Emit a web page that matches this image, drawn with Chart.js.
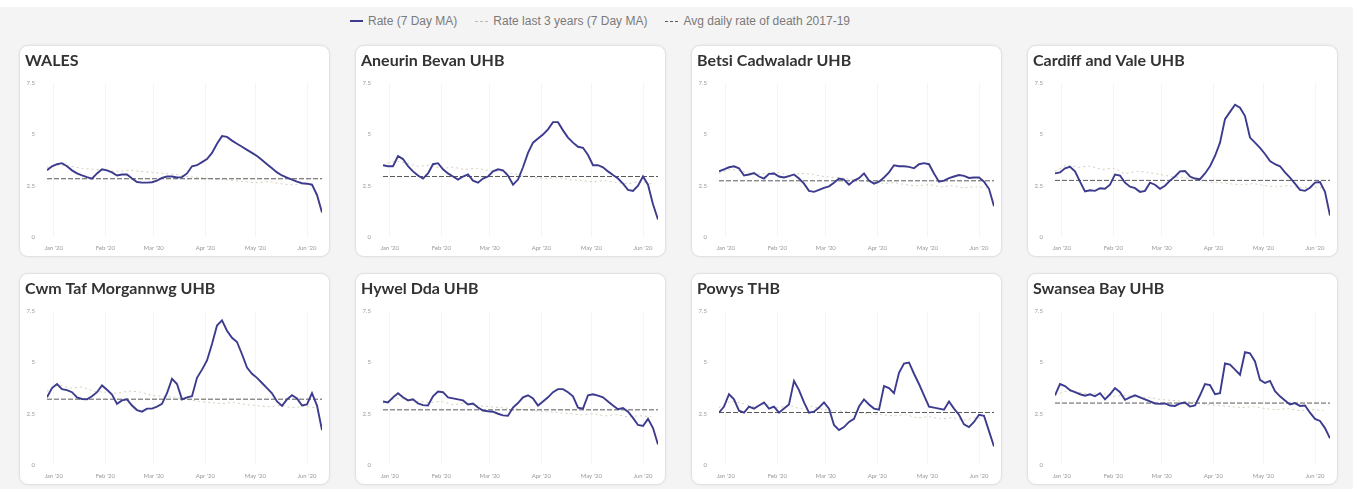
<!DOCTYPE html>
<html>
<head>
<meta charset="utf-8">
<script src="https://cdn.jsdelivr.net/npm/chart.js@4/dist/chart.umd.min.js"></script>
<style>
  html, body { margin: 0; padding: 0; }
  body { width: 1353px; height: 489px; background: #f4f4f4; position: relative; overflow: hidden; font-family: "Liberation Sans", Arial, sans-serif; }
  #topband { position: absolute; left: 0; top: 0; width: 1353px; height: 7px; background: #ffffff; }
  #legend { position: absolute; left: 350px; top: 13px; height: 16px; display: flex; align-items: center; font-size: 12px; color: #7a7a7a; white-space: nowrap; }
  .item { display: flex; align-items: center; margin-right: 18px; }
  .mk { display: inline-block; width: 13px; height: 0; margin-right: 5px; }
  .card { position: absolute; width: 311px; height: 212px; box-sizing: border-box; background: #fff; border: 1px solid #e2e2e2; border-radius: 9px; box-shadow: 0 0 3px rgba(0,0,0,0.06); }
  .card canvas { position: absolute; left: 0; top: 0; }
</style>
</head>
<body>
<div id="topband"></div>
<div id="legend"></div>
<div id="grid"></div>
<script>
// ---- categories / tick labels ----
const panelTitles = ["WALES", "Aneurin Bevan UHB", "Betsi Cadwaladr UHB", "Cardiff and Vale UHB",
                     "Cwm Taf Morgannwg UHB", "Hywel Dda UHB", "Powys THB", "Swansea Bay UHB"];
const legendLabels = ["Rate (7 Day MA)", "Rate last 3 years (7 Day MA)", "Avg daily rate of death 2017-19"];
const monthDays = [0, 31, 60, 91, 121, 152];
const monthLabels = ["Jan '20", "Feb '20", "Mar '20", "Apr '20", "May '20", "Jun '20"];
const yTickValues = [0, 2.5, 5, 7.5];

// day offsets from 1 Jan 2020
const days = [-4,-1,2,5,8,11,14,17,20,23,26,29,32,35,38,41,44,47,50,53,56,59,62,65,68,71,74,77,80,83,86,89,92,95,98,101,104,107,110,113,116,119,122,125,128,131,134,137,140,143,146,149,152,155,158,161];
const days3 = [-4,3,10,17,24,31,38,45,52,59,66,73,80,87,94,101,108,115,122,129,136,143,150,157];

// ---- series: rate (7 day MA) ----
const walesRate = [3.25,3.45,3.55,3.6,3.45,3.25,3.1,3.0,2.92,2.85,3.1,3.3,3.25,3.15,3.0,3.05,3.05,2.85,2.68,2.65,2.65,2.67,2.75,2.88,2.95,2.95,2.9,2.92,3.1,3.45,3.5,3.65,3.8,4.1,4.55,4.92,4.88,4.7,4.55,4.4,4.25,4.1,3.95,3.75,3.55,3.35,3.15,3.0,2.9,2.8,2.7,2.62,2.6,2.55,2.05,1.2];
const aneurinRate = [3.5,3.45,3.45,3.95,3.8,3.45,3.2,3.0,2.85,3.1,3.55,3.6,3.3,3.1,2.95,2.8,2.95,3.05,2.75,2.65,2.85,2.95,3.2,3.3,3.25,3.0,2.55,2.8,3.4,4.1,4.6,4.8,5.0,5.25,5.6,5.6,5.2,4.85,4.6,4.4,4.35,4.0,3.5,3.5,3.4,3.2,3.02,2.85,2.6,2.3,2.25,2.5,2.95,2.55,1.6,0.85];
const betsiRate = [3.2,3.3,3.4,3.45,3.35,3.0,3.05,3.12,2.95,2.85,3.08,3.1,2.95,2.9,2.97,3.05,2.85,2.6,2.25,2.2,2.3,2.4,2.47,2.65,2.85,2.8,2.55,2.75,2.87,3.1,2.75,2.6,2.7,2.9,3.15,3.5,3.45,3.45,3.42,3.35,3.55,3.6,3.55,3.1,2.7,2.75,2.87,2.95,3.02,2.98,2.88,2.9,2.9,2.7,2.35,1.5];
const cardiffRate = [3.1,3.15,3.35,3.42,3.2,2.7,2.22,2.28,2.25,2.38,2.35,2.55,3.05,3.0,2.65,2.45,2.38,2.2,2.25,2.65,2.55,2.35,2.5,2.75,2.95,3.2,3.22,2.95,2.85,2.82,3.1,3.45,3.95,4.6,5.75,6.1,6.45,6.3,5.9,4.85,4.6,4.35,4.05,3.7,3.55,3.45,3.15,2.9,2.6,2.3,2.25,2.4,2.65,2.68,2.2,1.05];
const cwmTafRate = [3.3,3.75,3.95,3.7,3.65,3.55,3.3,3.22,3.2,3.35,3.55,3.88,3.67,3.43,2.98,3.15,3.2,2.9,2.68,2.6,2.75,2.75,2.85,2.98,3.5,4.2,3.95,3.2,3.3,3.35,4.25,4.65,5.1,5.9,6.8,7.05,6.55,6.2,6.0,5.4,4.75,4.45,4.25,4.0,3.75,3.5,3.1,2.88,3.2,3.4,3.25,2.9,2.95,3.5,2.9,1.7];
const hywelRate = [3.1,3.05,3.3,3.5,3.3,3.15,3.2,3.0,2.92,2.9,3.35,3.58,3.55,3.3,3.25,3.2,3.15,2.95,3.0,2.8,2.65,2.62,2.6,2.5,2.42,2.4,2.8,3.02,3.3,3.4,3.25,2.9,3.1,3.3,3.55,3.7,3.7,3.55,3.35,2.8,2.75,3.4,3.45,3.38,3.3,3.1,2.9,2.72,2.78,2.6,2.3,1.95,1.9,2.25,1.8,1.0];
const powysRate = [2.55,2.85,3.45,3.2,2.65,2.55,2.85,2.75,2.9,3.05,2.75,2.85,2.55,2.75,2.95,4.1,3.65,3.05,2.55,2.6,2.8,3.05,2.75,1.95,1.7,1.85,2.1,2.25,2.85,3.2,2.95,2.75,2.7,3.85,3.75,3.5,4.5,4.95,5.0,4.45,3.95,3.4,2.85,2.8,2.75,2.7,3.1,2.75,2.45,1.98,1.85,2.1,2.45,2.4,1.65,0.9];
const swanseaRate = [3.4,3.95,3.85,3.65,3.55,3.45,3.38,3.45,3.35,3.5,3.2,3.45,3.75,3.55,3.18,3.3,3.4,3.3,3.2,3.1,3.0,2.98,3.0,2.9,2.88,3.0,3.05,2.85,2.9,3.4,3.95,3.9,3.45,3.5,4.95,4.9,4.65,4.4,5.5,5.45,5.05,4.15,4.0,4.1,3.6,3.35,3.15,2.95,3.02,2.88,2.9,2.55,2.25,2.15,1.8,1.3];

// ---- series: rate last 3 years (7 day MA), weekly readings ----
const walesPrev = [3.4,3.5,3.45,3.35,3.3,3.25,3.2,3.25,3.2,3.15,3.1,3.05,2.95,2.9,2.85,2.8,2.75,2.7,2.65,2.7,2.6,2.55,2.6,2.55];
const aneurinPrev = [3.5,3.7,3.6,3.45,3.5,3.35,3.4,3.3,3.35,3.25,3.2,3.1,3.0,2.9,2.85,2.9,2.8,2.75,2.7,2.75,2.65,2.6,2.7,2.6];
const betsiPrev = [3.1,3.3,3.2,3.05,3.1,3.15,3.0,3.1,3.05,2.95,2.9,2.85,2.75,2.7,2.6,2.65,2.55,2.5,2.55,2.45,2.5,2.4,2.45,2.4];
const cardiffPrev = [3.2,3.5,3.4,3.45,3.3,3.35,3.1,3.2,3.15,3.05,2.95,2.9,2.8,2.7,2.65,2.6,2.55,2.6,2.5,2.45,2.5,2.4,2.45,2.4];
const cwmTafPrev = [3.6,3.9,3.75,3.8,3.6,3.55,3.5,3.6,3.55,3.4,3.35,3.3,3.2,3.1,3.05,3.0,3.05,2.95,2.9,2.85,2.9,2.8,2.85,2.8];
const hywelPrev = [3.0,3.25,3.2,3.1,3.05,3.1,2.95,3.0,2.9,2.85,2.8,2.75,2.7,2.65,2.6,2.55,2.5,2.45,2.5,2.4,2.45,2.35,2.4,2.35];
const powysPrev = [2.8,3.1,3.0,2.85,2.95,2.8,2.9,2.75,2.85,2.7,2.65,2.6,2.55,2.5,2.45,2.4,2.45,2.3,2.35,2.25,2.3,2.2,2.3,2.25];
const swanseaPrev = [3.4,3.6,3.55,3.45,3.5,3.35,3.4,3.3,3.3,3.2,3.15,3.1,3.05,2.95,2.9,2.85,2.8,2.85,2.75,2.7,2.75,2.65,2.7,2.65];

// ---- avg daily rate of death 2017-19 ----
const avgRates = [2.84, 2.95, 2.74, 2.76, 3.21, 2.69, 2.56, 3.02];

const rateSeries = [walesRate, aneurinRate, betsiRate, cardiffRate, cwmTafRate, hywelRate, powysRate, swanseaRate];
const prevSeries = [walesPrev, aneurinPrev, betsiPrev, cardiffPrev, cwmTafPrev, hywelPrev, powysPrev, swanseaPrev];

// ---- styling ----
const RATE_COLOR = '#3c3b8e';
const PREV_COLOR = 'rgba(200,200,175,0.85)';
const AVG_COLOR = '#5a5a5a';

// legend
const legendStyles = [
  'border-top:2px solid ' + RATE_COLOR,
  'border-top:1px dashed #bbbbbb',
  'border-top:1px dashed ' + AVG_COLOR
];
const legendEl = document.getElementById('legend');
legendLabels.forEach((lab, i) => {
  const it = document.createElement('span');
  it.className = 'item';
  const mk = document.createElement('span');
  mk.className = 'mk';
  mk.style.cssText = legendStyles[i];
  const tx = document.createElement('span');
  tx.textContent = lab;
  it.appendChild(mk); it.appendChild(tx);
  legendEl.appendChild(it);
});

const cardLefts = [19, 355, 691, 1027];
const cardTops = [45, 273];
const gridEl = document.getElementById('grid');

panelTitles.forEach((title, i) => {
  const card = document.createElement('div');
  card.className = 'card';
  card.style.left = cardLefts[i % 4] + 'px';
  card.style.top = cardTops[Math.floor(i / 4)] + 'px';
  const cv = document.createElement('canvas');
  cv.width = 309; cv.height = 210;
  cv.style.width = '309px'; cv.style.height = '210px';
  card.appendChild(cv);
  gridEl.appendChild(card);

  const rate = rateSeries[i].map((v, k) => ({ x: days[k], y: v }));
  const prev = prevSeries[i].map((v, k) => ({ x: days3[k], y: v }));
  const avg = days.map(d => ({ x: d, y: avgRates[i] }));

  new Chart(cv, {
    type: 'line',
    data: {
      datasets: [
        { label: legendLabels[1], data: prev, borderColor: PREV_COLOR, borderWidth: 1, borderDash: [2, 3], pointRadius: 0, tension: 0.2, order: 3 },
        { label: legendLabels[2], data: avg, borderColor: AVG_COLOR, borderWidth: 1, borderDash: [5, 2], pointRadius: 0, order: 2 },
        { label: legendLabels[0], data: rate, borderColor: RATE_COLOR, borderWidth: 1.9, pointRadius: 0, tension: 0, order: 1 }
      ]
    },
    options: {
      responsive: false,
      devicePixelRatio: 1,
      animation: false,
      layout: { autoPadding: false, padding: { left: 5, right: 7, top: 5, bottom: 5 } },
      plugins: {
        legend: { display: false },
        tooltip: { enabled: false },
        title: {
          display: true, text: title, align: 'start', color: '#333333',
          font: { family: 'Lato', size: 16, weight: 'bold' },
          padding: { top: 0, bottom: 13 }
        }
      },
      scales: {
        x: {
          type: 'linear', min: -4, max: 161,
          afterBuildTicks: (axis) => { axis.ticks = monthDays.map(v => ({ value: v })); },
          afterFit: (axis) => { axis.height = 14; },
          grid: { color: '#f5f5f5', drawTicks: false },
          border: { display: false },
          ticks: {
            autoSkip: false, maxRotation: 0, padding: 7, color: '#999999',
            font: { family: 'Lato', size: 6 },
            callback: (v) => { const j = monthDays.indexOf(v); return j >= 0 ? monthLabels[j] : ''; }
          }
        },
        y: {
          min: 0, max: 7.5,
          afterBuildTicks: (axis) => { axis.ticks = yTickValues.map(v => ({ value: v })); },
          afterFit: (axis) => { axis.width = 22; },
          grid: { display: false, drawTicks: false },
          border: { display: false },
          ticks: { padding: 12, color: '#999999', font: { family: 'Lato', size: 6 } }
        }
      }
    }
  });
});
</script>
</body>
</html>
